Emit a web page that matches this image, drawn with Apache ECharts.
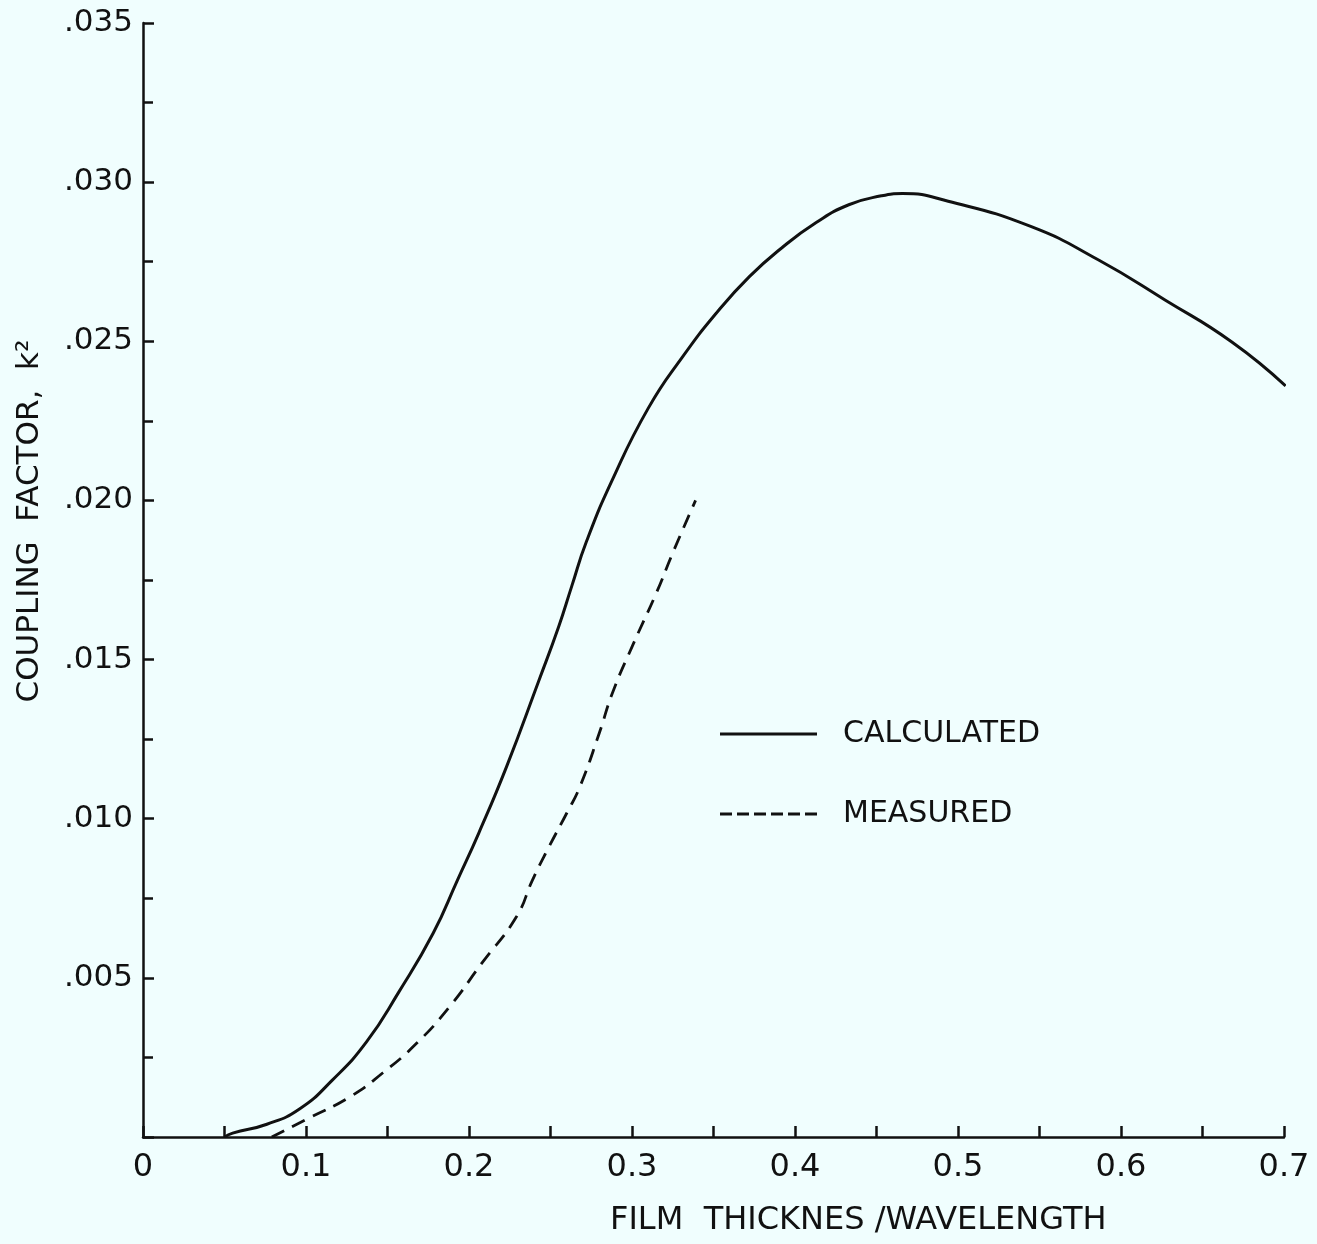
<!DOCTYPE html>
<html>
<head>
<meta charset="utf-8">
<script src="https://cdn.jsdelivr.net/npm/echarts@6/dist/echarts.min.js"></script>
<style>
  html, body { margin: 0; padding: 0; background: #f0fefe; }
  #chart { width: 1317px; height: 1244px; }
</style>
</head>
<body>
<div id="chart"></div>
<script>
// Film thickness / wavelength (x) vs coupling factor k^2 (y)
const calcX = [0.050, 0.055, 0.076, 0.096, 0.116, 0.137, 0.157, 0.178, 0.193, 0.206, 0.223, 0.243, 0.255, 0.263, 0.272, 0.288, 0.310, 0.331, 0.352, 0.372, 0.392, 0.413, 0.433, 0.453, 0.466, 0.494, 0.545, 0.586, 0.627, 0.668, 0.701];
const calcY = [0.0000, 0.00012, 0.00040, 0.00088, 0.00178, 0.00298, 0.00456, 0.00640, 0.00808, 0.00955, 0.01163, 0.01436, 0.01603, 0.01730, 0.01870, 0.02065, 0.02290, 0.02451, 0.02590, 0.02703, 0.02794, 0.02873, 0.02929, 0.02957, 0.02964, 0.02940, 0.02860, 0.02756, 0.02630, 0.02498, 0.02360];

const measX = [0.079, 0.102, 0.127, 0.147, 0.168, 0.188, 0.208, 0.229, 0.239, 0.249, 0.260, 0.268, 0.280, 0.288, 0.300, 0.315, 0.325, 0.339];
const measY = [0.0000, 0.0006, 0.00126, 0.00201, 0.00295, 0.00409, 0.00547, 0.00691, 0.00808, 0.00911, 0.01018, 0.0110, 0.0127, 0.01395, 0.0154, 0.0171, 0.01835, 0.0200];

const seriesNames = ['CALCULATED', 'MEASURED'];
const xAxisTitle = 'FILM  THICKNES /WAVELENGTH';
const yAxisTitle = 'COUPLING  FACTOR,  k\u00B2';

const pairs = (xs, ys) => xs.map((x, i) => [x, ys[i]]);
const FONT = 'DejaVu Sans';
const INK = '#111';

// legend keys: a solid bar and a row of dashes
const solidKey = 'path://M0 0H97V3H0Z';
const dashedKey = 'path://M0 0H12V3H0Z M17 0H29V3H17Z M34 0H46V3H34Z M51 0H63V3H51Z M68 0H80V3H68Z M85 0H97V3H85Z';

const chart = echarts.init(document.getElementById('chart'), null, { renderer: 'canvas' });

chart.setOption({
  backgroundColor: '#f0fefe',
  animation: false,
  grid: { left: 143, right: 33, top: 23, bottom: 107, containLabel: false },
  xAxis: {
    type: 'value',
    min: 0, max: 0.7, interval: 0.1,
    axisLine: { show: true, lineStyle: { color: INK, width: 2.5 } },
    axisTick: { show: true, inside: true, length: 11, lineStyle: { color: INK, width: 2.5 } },
    minorTick: { show: true, splitNumber: 2, length: 11, lineStyle: { color: INK, width: 2.5 } },
    splitLine: { show: false },
    axisLabel: {
      margin: 15, color: INK, fontFamily: FONT, fontSize: 32,
      formatter: v => (v === 0 ? '0' : v.toFixed(1))
    }
  },
  yAxis: {
    type: 'value',
    min: 0, max: 0.035, interval: 0.005,
    axisLine: { show: true, lineStyle: { color: INK, width: 2.5 } },
    axisTick: { show: true, inside: true, length: 11, lineStyle: { color: INK, width: 2.5 } },
    minorTick: { show: true, splitNumber: 2, length: 10, lineStyle: { color: INK, width: 2.5 } },
    splitLine: { show: false },
    axisLabel: {
      margin: 10, color: INK, fontFamily: FONT, fontSize: 31,
      formatter: v => (v === 0 ? '' : v.toFixed(3).replace(/^0/, ''))
    }
  },
  legend: {
    orient: 'vertical',
    left: 715, top: 714,
    itemWidth: 97, itemHeight: 3, itemGap: 50,
    data: [
      { name: seriesNames[0], icon: solidKey },
      { name: seriesNames[1], icon: dashedKey }
    ],
    itemStyle: { color: INK, borderWidth: 0 },
    textStyle: { color: INK, fontFamily: FONT, fontSize: 30, lineHeight: 30, padding: [0, 0, 0, 21] }
  },
  graphic: [
    {
      type: 'text', left: 610, top: 1205,
      style: { text: xAxisTitle, fill: INK, font: '32px "DejaVu Sans"' }
    },
    {
      type: 'text', x: 30, y: 521, rotation: Math.PI / 2,
      style: { text: yAxisTitle, fill: INK, font: '31px "DejaVu Sans"', align: 'center', verticalAlign: 'middle' }
    }
  ],
  series: [
    {
      name: seriesNames[0], type: 'line', data: pairs(calcX, calcY),
      symbol: 'none', smooth: 0.5,
      lineStyle: { color: INK, width: 3, type: 'solid' },
      itemStyle: { color: INK }
    },
    {
      name: seriesNames[1], type: 'line', data: pairs(measX, measY),
      symbol: 'none', smooth: 0.5,
      lineStyle: { color: INK, width: 2.8, type: [14, 9] },
      itemStyle: { color: INK }
    }
  ]
});
</script>
</body>
</html>
